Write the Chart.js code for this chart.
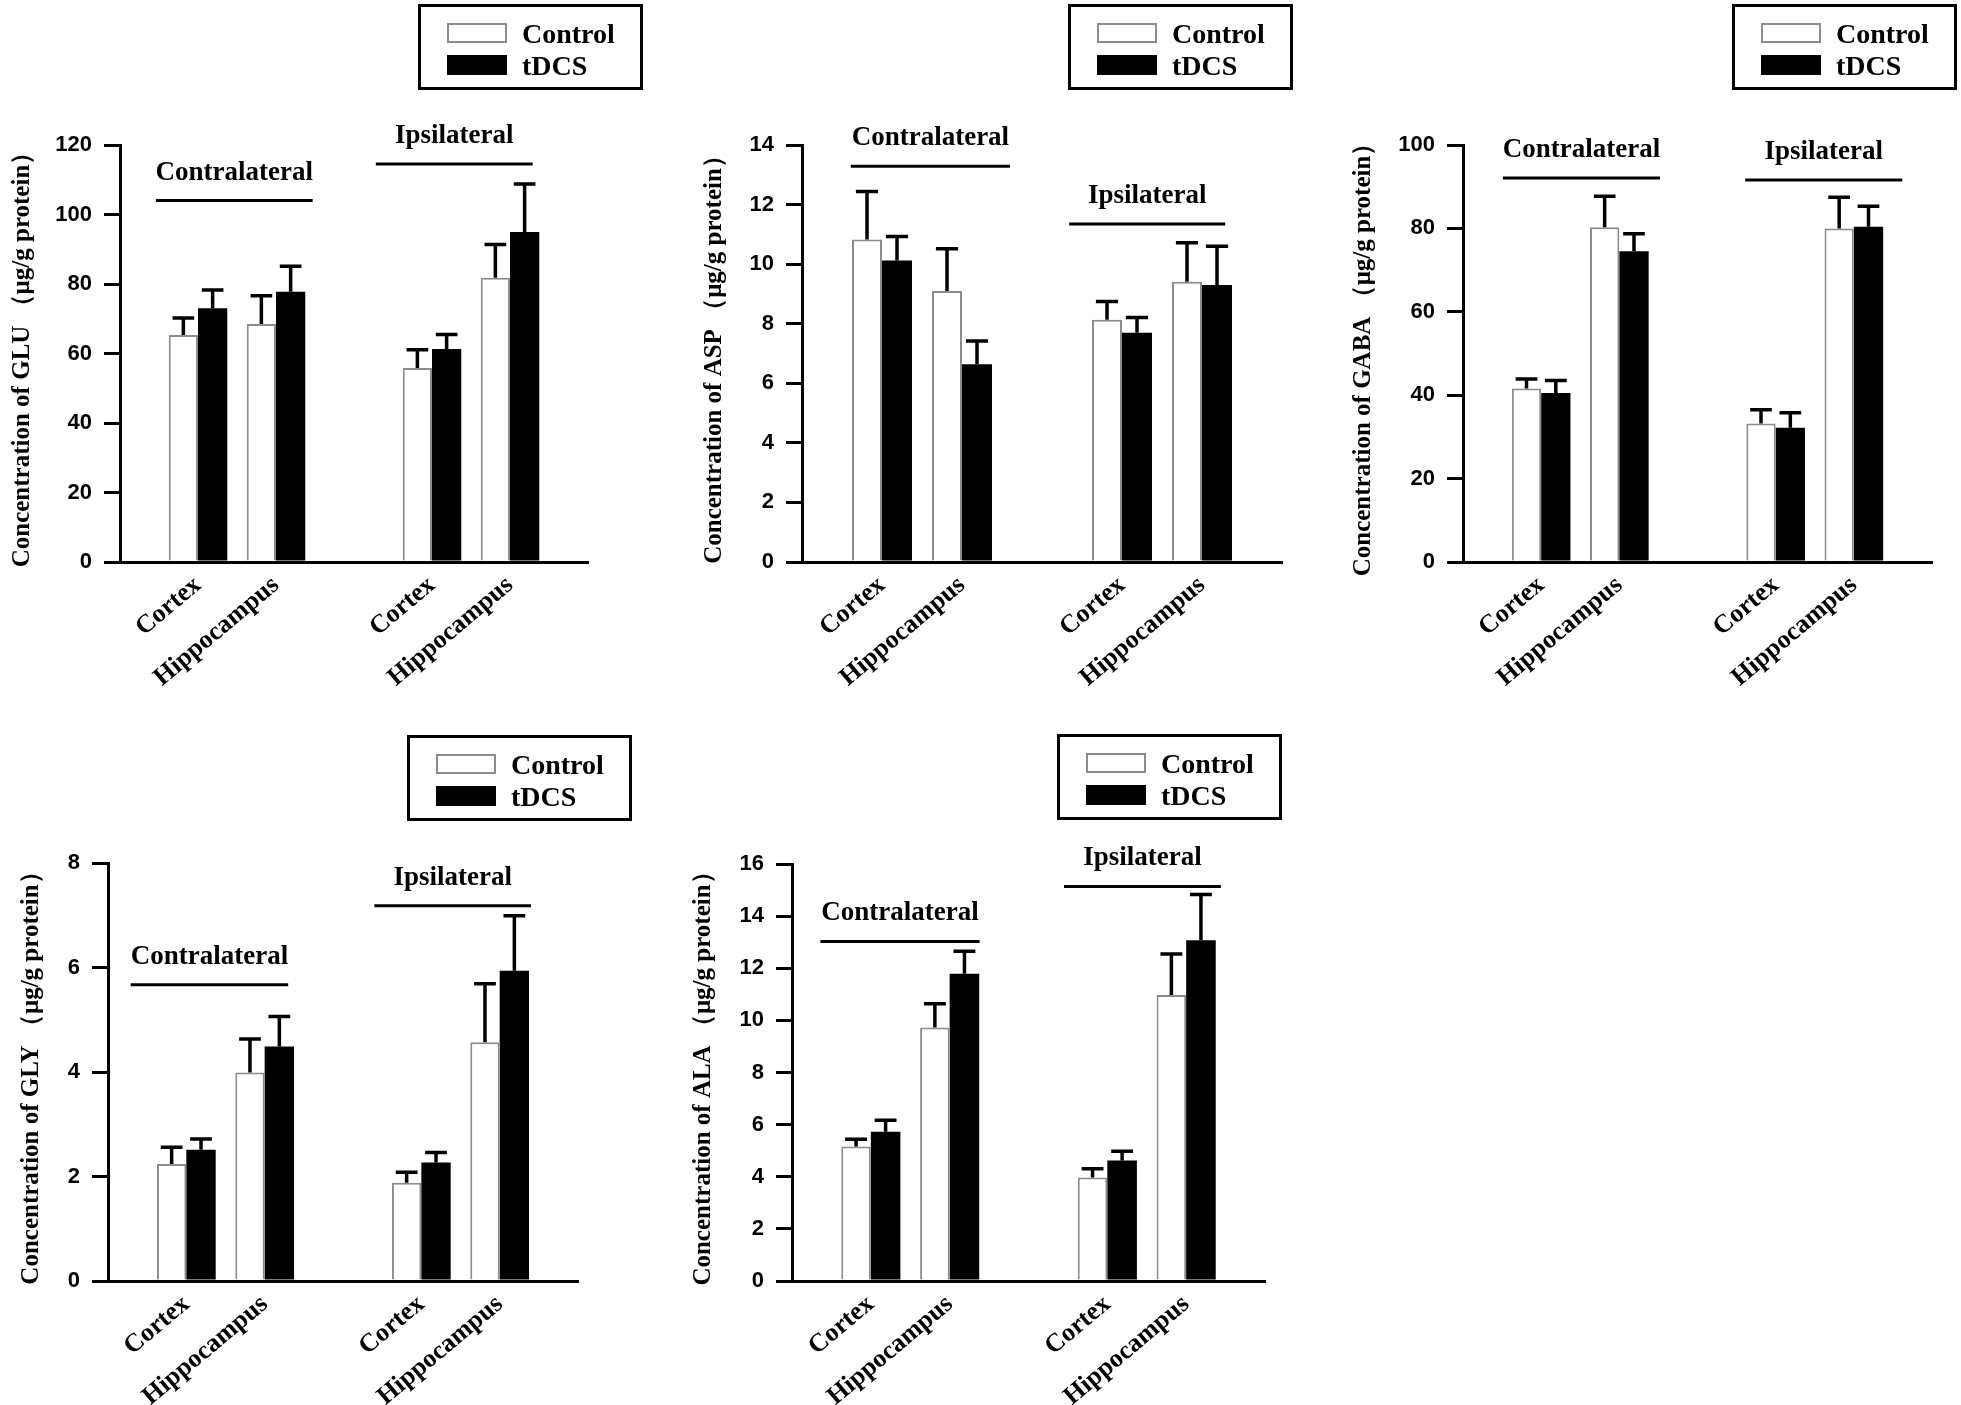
<!DOCTYPE html>
<html>
<head>
<meta charset="utf-8">
<script src="https://cdn.jsdelivr.net/npm/chart.js@4.4.1/dist/chart.umd.min.js"></script>
<style>
  html, body { margin: 0; padding: 0; background: #fff; }
  #page { position: relative; width: 1961px; height: 1405px; overflow: hidden; background: #fff; }
  canvas { position: absolute; }
</style>
</head>
<body>
<div id="page">
  <canvas id="glu" width="660" height="720" style="left:0px;top:0px"></canvas>
  <canvas id="asp" width="670" height="720" style="left:660px;top:0px"></canvas>
  <canvas id="gaba" width="631" height="720" style="left:1330px;top:0px"></canvas>
  <canvas id="gly" width="680" height="685" style="left:0px;top:720px"></canvas>
  <canvas id="ala" width="620" height="685" style="left:680px;top:720px"></canvas>
</div>
<script>
// order of values: contralateral cortex, contralateral hippocampus, ipsilateral cortex, ipsilateral hippocampus
var regions = ["Contralateral", "Ipsilateral"];
var tissues = ["Cortex", "Hippocampus"];
var seriesNames = ["Control", "tDCS"];

var gluControl = [65.3, 68.5, 55.8, 81.8];
var gluControlSem = [4.9, 8.1, 5.3, 9.6];
var gluTdcs = [73.0, 77.8, 61.3, 95.0];
var gluTdcsSem = [5.3, 7.3, 4.2, 13.8];

var aspControl = [10.83, 9.10, 8.13, 9.41];
var aspControlSem = [1.61, 1.42, 0.62, 1.31];
var aspTdcs = [10.12, 6.64, 7.70, 9.30];
var aspTdcsSem = [0.81, 0.78, 0.51, 1.30];

var gabaControl = [41.6, 80.3, 33.2, 80.0];
var gabaControlSem = [2.3, 7.4, 3.3, 7.5];
var gabaTdcs = [40.5, 74.5, 32.2, 80.4];
var gabaTdcsSem = [3.0, 4.2, 3.6, 4.9];

var glyControl = [2.24, 3.99, 1.88, 4.57];
var glyControlSem = [0.32, 0.64, 0.20, 1.12];
var glyTdcs = [2.51, 4.49, 2.27, 5.94];
var glyTdcsSem = [0.21, 0.57, 0.19, 1.05];

var alaControl = [5.16, 9.73, 3.97, 10.97];
var alaControlSem = [0.28, 0.91, 0.34, 1.58];
var alaTdcs = [5.73, 11.79, 4.62, 13.07];
var alaTdcsSem = [0.44, 0.86, 0.36, 1.76];

// empty slots at both ends and between the two regions
var slotLabels = [""].concat(tissues, [""], tissues, [""]);
function toSlots(v) {
  return [null, v[0], v[1], null, v[2], v[3], null];
}

var serif = "Liberation Serif";
var sans = "Liberation Sans";

function makeExtras(lay) {
  return {
    id: "extras",
    afterDatasetsDraw: function (chart) {
      var ctx = chart.ctx, ys = chart.scales.y;
      ctx.save();
      ctx.strokeStyle = "#000";
      ctx.lineWidth = 3.5;
      chart.data.datasets.forEach(function (ds, di) {
        var meta = chart.getDatasetMeta(di);
        meta.data.forEach(function (bar, i) {
          var v = ds.data[i];
          if (v == null) return;
          var top = ys.getPixelForValue(v + ds.errors[i]);
          var half = bar.width * 0.37;
          ctx.beginPath();
          ctx.moveTo(bar.x, bar.y);
          ctx.lineTo(bar.x, top);
          ctx.moveTo(bar.x - half, top);
          ctx.lineTo(bar.x + half, top);
          ctx.stroke();
        });
      });
      ctx.restore();
    },
    afterDraw: function (chart) {
      var ctx = chart.ctx, xs = chart.scales.x, ys = chart.scales.y;
      ctx.save();
      ctx.fillStyle = "#000";
      ctx.strokeStyle = "#000";
      // region brackets
      lay.groups.forEach(function (g, k) {
        var y = ys.getPixelForValue(g.at);
        var x1 = xs.getPixelForValue(g.from), x2 = xs.getPixelForValue(g.to);
        ctx.lineWidth = 3;
        ctx.beginPath();
        ctx.moveTo(x1, y);
        ctx.lineTo(x2, y);
        ctx.stroke();
        ctx.font = "bold 27px '" + serif + "'";
        ctx.textAlign = "center";
        ctx.textBaseline = "alphabetic";
        ctx.fillText(regions[k], (x1 + x2) / 2, y - 21);
      });
      // boxed legend
      var L = lay.legend;
      ctx.lineWidth = 3;
      ctx.strokeRect(L.x + 1.5, L.y + 1.5, 222, 83);
      chart.data.datasets.forEach(function (ds, r) {
        var sy = L.y + 19 + r * 32;
        ctx.fillStyle = ds.backgroundColor;
        ctx.fillRect(L.x + 29, sy, 60, 20);
        if (ds.borderWidth) {
          ctx.strokeStyle = ds.borderColor;
          ctx.lineWidth = 2;
          ctx.strokeRect(L.x + 30, sy + 1, 58, 18);
        }
        ctx.fillStyle = "#000";
        ctx.font = "bold 28px '" + serif + "'";
        ctx.textAlign = "left";
        ctx.textBaseline = "alphabetic";
        ctx.fillText(ds.label, L.x + 104, L.y + 39 + r * 32);
      });
      ctx.restore();
    }
  };
}

function panel(id, name, yMax, yStep, control, controlSem, tdcs, tdcsSem, lay) {
  new Chart(id, {
    type: "bar",
    data: {
      labels: slotLabels,
      datasets: [{
        label: seriesNames[0],
        data: toSlots(control),
        errors: toSlots(controlSem),
        backgroundColor: "#ffffff",
        borderColor: "#8c8c8c",
        borderWidth: 2,
        categoryPercentage: 0.75,
        barPercentage: 1
      }, {
        label: seriesNames[1],
        data: toSlots(tdcs),
        errors: toSlots(tdcsSem),
        backgroundColor: "#000000",
        borderColor: "#000000",
        borderWidth: 0,
        categoryPercentage: 0.75,
        barPercentage: 1
      }]
    },
    options: {
      responsive: false,
      animation: false,
      devicePixelRatio: 1,
      layout: { padding: { left: lay.left, right: lay.right, top: lay.top, bottom: 0 } },
      plugins: {
        legend: { display: false },
        tooltip: { enabled: false }
      },
      scales: {
        x: {
          offset: false,
          grid: { display: false, drawTicks: false },
          border: { color: "#000", width: 3 },
          ticks: {
            autoSkip: false,
            minRotation: 40,
            maxRotation: 40,
            padding: 8,
            color: "#000",
            font: { family: serif, weight: "bold", size: 26 }
          },
          afterFit: function (s) { s.height = lay.xh; }
        },
        y: {
          min: 0,
          max: yMax,
          ticks: {
            stepSize: yStep,
            padding: 12,
            color: "#000",
            font: { family: sans, weight: "bold", size: 22 }
          },
          grid: { drawOnChartArea: false, color: "#000", lineWidth: 3, tickLength: 16 },
          border: { color: "#000", width: 3 },
          title: {
            display: true,
            text: "Concentration of " + name + " （μg/g protein）",
            color: "#000",
            font: { family: serif, weight: "bold", size: 25 },
            padding: { top: 4, bottom: 0 }
          },
          afterFit: function (s) { s.width = lay.yw; }
        }
      }
    },
    plugins: [makeExtras(lay)]
  });
}

panel("glu", "GLU", 120, 20, gluControl, gluControlSem, gluTdcs, gluTdcsSem, {
  left: 4, yw: 116, right: 72, top: 145, xh: 158,
  legend: { x: 418, y: 4 },
  groups: [{ at: 104.0, from: 0.46, to: 2.47 }, { at: 114.5, from: 3.28, to: 5.29 }]
});

panel("asp", "ASP", 14, 2, aspControl, aspControlSem, aspTdcs, aspTdcsSem, {
  left: 36, yw: 106, right: 48, top: 145, xh: 158,
  legend: { x: 408, y: 4 },
  groups: [{ at: 13.29, from: 0.61, to: 2.6 }, { at: 11.35, from: 3.34, to: 5.29 }]
});

panel("gaba", "GABA", 100, 20, gabaControl, gabaControlSem, gabaTdcs, gabaTdcsSem, {
  left: 15, yw: 118, right: 29, top: 145, xh: 158,
  legend: { x: 402, y: 4 },
  groups: [{ at: 92.1, from: 0.51, to: 2.52 }, { at: 91.6, from: 3.61, to: 5.62 }]
});

panel("gly", "GLY", 8, 2, glyControl, glyControlSem, glyTdcs, glyTdcsSem, {
  left: 13, yw: 95, right: 102, top: 143, xh: 124,
  legend: { x: 407, y: 15 },
  groups: [{ at: 5.67, from: 0.29, to: 2.30 }, { at: 7.18, from: 3.40, to: 5.40 }]
});

panel("ala", "ALA", 16, 2, alaControl, alaControlSem, alaTdcs, alaTdcsSem, {
  left: 5, yw: 107, right: 35, top: 144, xh: 124,
  legend: { x: 377, y: 14 },
  groups: [{ at: 13.03, from: 0.36, to: 2.38 }, { at: 15.14, from: 3.45, to: 5.44 }]
});
</script>
</body>
</html>
